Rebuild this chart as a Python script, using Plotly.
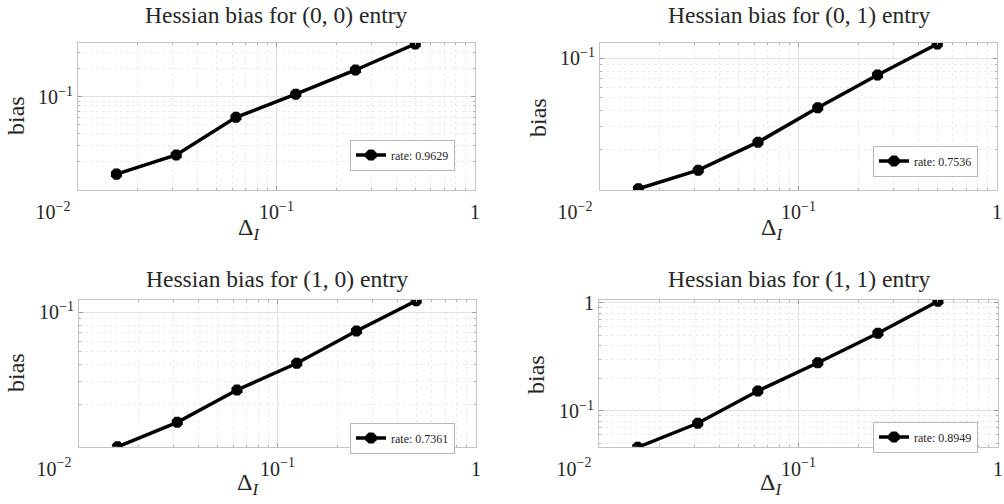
import plotly.graph_objects as go

delta = [0.015625, 0.03125, 0.0625, 0.125, 0.25, 0.5]
bias00 = [0.0148, 0.0238, 0.0605, 0.107, 0.195, 0.371]
bias01 = [0.0101, 0.0140, 0.0229, 0.0420, 0.0746, 0.1286]
bias10 = [0.0095, 0.0146, 0.0257, 0.0410, 0.0721, 0.1225]
bias11 = [0.0462, 0.077, 0.153, 0.279, 0.522, 1.03]
series = [bias00, bias01, bias10, bias11]
titles = ["Hessian bias for (0, 0) entry", "Hessian bias for (0, 1) entry",
          "Hessian bias for (1, 0) entry", "Hessian bias for (1, 1) entry"]
rates = ["rate: 0.9629", "rate: 0.7536", "rate: 0.7361", "rate: 0.8949"]
xtick_vals = [0.01, 0.1, 1]
xtick_text = ["10<sup>−2</sup>" + "\u00a0" * 10, "10<sup>−1</sup>", "1"]
ytick_sets = [([0.1], ["10<sup>−1</sup>"]), ([0.1], ["10<sup>−1</sup>"]),
              ([0.1], ["10<sup>−1</sup>"]), ([0.1, 1], ["10<sup>−1</sup>", "1"])]
yranges = [[-2.0, -0.42], [-2.005, -0.883], [-2.021, -0.9065], [-1.33, 0.025]]

W, H = 1004, 504
FONT = "Liberation Serif"
TXT = "#262626"

# pixel layout of the plot areas
boxes = [(78, 475, 43, 190), (600, 997, 43, 190), (79, 476, 300, 446.7), (599, 998, 300, 446.7)]
legend_pos = [(455, 155), (978, 161), (455, 438), (978, 437)]
title_pos = [(276, 15), (799, 15), (277, 279), (799, 279)]
ylab_pos = [(16, 116), (538, 118), (16, 373), (536, 375)]
xlab_pos = [(249, 229), (772, 229), (248, 484), (771, 484)]

minor_vals = [m * 10 ** e for e in (-3, -2, -1, 0) for m in range(2, 10)]

fig = go.Figure()
annotations = []
for i in range(4):
    ax = "" if i == 0 else str(i + 1)
    lg = "legend" if i == 0 else "legend" + str(i + 1)
    fig.add_trace(go.Scatter(
        x=delta, y=series[i], mode="lines+markers", name=rates[i],
        xaxis="x" + ax, yaxis="y" + ax, legend=lg, showlegend=True,
        line=dict(color="black", width=3.5),
        marker=dict(symbol="octagon", size=12, color="black"),
    ))
    x0, x1, y0, y1 = boxes[i]
    common = dict(type="log", showline=True, mirror="ticks", linecolor="#c4c4c4", linewidth=1,
                  ticks="inside", ticklen=4, tickcolor="#9a9a9a", automargin=False,
                  showgrid=True, gridcolor="#e2e2e2", gridwidth=1, zeroline=False,
                  tickfont=dict(family=FONT, size=20, color=TXT),
                  minor=dict(tickmode="array", tickvals=minor_vals, showgrid=True,
                             gridcolor="#ebebeb", griddash="dot", ticks="inside",
                             ticklen=2, tickcolor="#b0b0b0"))
    fig.layout["xaxis" + ax] = dict(
        common, domain=[x0 / W, x1 / W], anchor="y" + ax, range=[-2, 0],
        tickmode="array", tickvals=xtick_vals, ticktext=xtick_text, ticklabelstandoff=4)
    tv, tt = ytick_sets[i]
    fig.layout["yaxis" + ax] = dict(
        common, domain=[1 - y1 / H, 1 - y0 / H], anchor="x" + ax, range=yranges[i],
        tickmode="array", tickvals=tv, ticktext=tt)
    lx, ly = legend_pos[i]
    fig.layout[lg] = dict(x=lx / W, y=1 - ly / H, xanchor="right", yanchor="middle",
                          xref="paper", yref="paper", bgcolor="white",
                          bordercolor="#b8b8b8", borderwidth=1,
                          font=dict(family=FONT, size=12, color=TXT),
                          itemwidth=30, tracegroupgap=0)
    tx, ty = title_pos[i]
    annotations.append(dict(text=titles[i], x=tx / W, y=1 - ty / H, xref="paper", yref="paper",
                            showarrow=False, xanchor="center", yanchor="middle",
                            font=dict(family=FONT, size=23.5, color=TXT)))
    bx, by = ylab_pos[i]
    annotations.append(dict(text="bias", x=bx / W, y=1 - by / H, xref="paper", yref="paper",
                            showarrow=False, textangle=-90, xanchor="center", yanchor="middle",
                            font=dict(family=FONT, size=24, color=TXT)))
    dx, dy = xlab_pos[i]
    annotations.append(dict(text="Δ<sub><i>I</i></sub>", x=dx / W, y=1 - dy / H, xref="paper",
                            yref="paper", showarrow=False, xanchor="center", yanchor="middle",
                            font=dict(family=FONT, size=24, color=TXT)))

fig.update_layout(width=W, height=H, margin=dict(l=0, r=0, t=0, b=0, autoexpand=False),
                  paper_bgcolor="white", plot_bgcolor="white", annotations=annotations)
fig.write_html("out.html")
